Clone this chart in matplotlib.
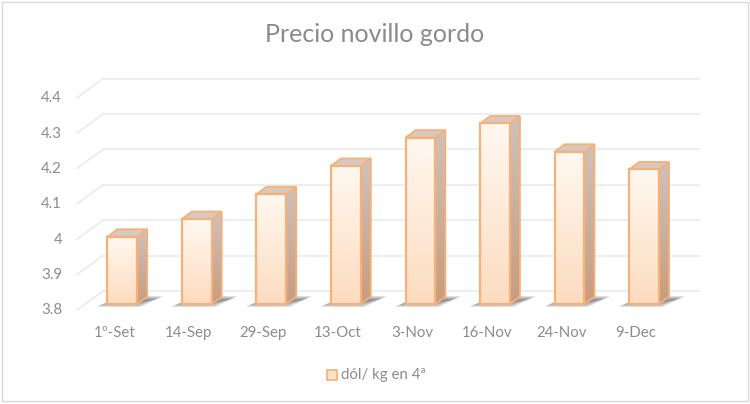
import matplotlib
matplotlib.use("Agg")
import matplotlib.pyplot as plt
import numpy as np
from matplotlib.patches import Polygon, Rectangle
from matplotlib.transforms import offset_copy
from matplotlib.colors import LinearSegmentedColormap

plt.rcParams['font.family'] = ['Lato', 'DejaVu Sans']

fechas = ['1º-Set', '14-Sep', '29-Sep', '13-Oct', '3-Nov', '16-Nov', '24-Nov', '9-Dec']
precios = [3.99, 4.04, 4.11, 4.19, 4.27, 4.31, 4.23, 4.18]
yticks = [3.8, 3.9, 4.0, 4.1, 4.2, 4.3, 4.4]
ytick_labels = ['3.8', '3.9', '4', '4.1', '4.2', '4.3', '4.4']
titulo = 'Precio novillo gordo'
serie = 'dól/ kg en 4ª'

W, H = 750, 404
fig = plt.figure(figsize=(W / 100, H / 100), dpi=100)

# axes placed in pixels: bar front plane
left_px, right_px, top_px, bot_px = 85, 681.4, 91.6, 304
ax = fig.add_axes([left_px / W, 1 - bot_px / H, (right_px - left_px) / W, (bot_px - top_px) / H])
ax.axis('off')

# pixel -> data units
ux = (right_px - left_px) / 8.0
uy = (bot_px - top_px) / 0.6
def px(dx, dy):
    return dx / ux, dy / uy

grid_c = '#ebebeb'
txt_c = '#8c8c8c'
edge_c = '#f6b07a'

# back wall gridlines + left wall diagonals
bx, by = px(18, 13)
fx, fy = px(-8, -6)
for v in yticks:
    ax.plot([-0.5 + bx, 7.5 + bx], [v + by, v + by], color=grid_c, lw=1.2, zorder=1, clip_on=False)
    ax.plot([-0.5 + fx, -0.5 + bx], [v + fy, v + by], color=grid_c, lw=1.2, zorder=1, clip_on=False)

x = np.arange(len(fechas))
w = 0.4
ddx, ddy = px(10, 7.5)

# soft shadows on the floor
for xi in x:
    for k in range(7):
        g = k * 1.3
        sx, sy = px(g, g * 0.5)
        p0 = (xi - w / 2 - px(11, 0)[0] + sx, 3.8 - px(0, 3)[1] + sy)
        p1 = (xi + w / 2 + px(4, 0)[0] - sx, 3.8 - px(0, 3)[1] + sy)
        p2 = (xi + w / 2 + ddx + px(16, 0)[0] - sx, 3.8 + px(0, 8)[1] - sy)
        p3 = (xi - w / 2 + ddx + px(2, 0)[0] + sx, 3.8 + px(0, 8)[1] - sy)
        ax.add_patch(Polygon([p0, p1, p2, p3], closed=True, facecolor='#5a5a5a',
                             edgecolor='none', alpha=0.14, zorder=2, clip_on=False))

bars = ax.bar(x, np.array(precios) - 3.8, bottom=3.8, width=w, facecolor='none',
              edgecolor=edge_c, lw=1.6, zorder=6, clip_on=False)

grad = np.linspace(0, 1, 100).reshape(-1, 1)
cm_front = LinearSegmentedColormap.from_list('f', ['#fddcc0', '#fff8f0'])
cm_side = LinearSegmentedColormap.from_list('s', ['#c89c7e', '#cfc2ba'])

for xi, v, b in zip(x, precios, bars):
    # side face
    side = Polygon([(xi + w / 2, 3.8), (xi + w / 2 + ddx, 3.8 + ddy),
                    (xi + w / 2 + ddx, v + ddy), (xi + w / 2, v)], closed=True,
                   facecolor='none', edgecolor=edge_c, lw=1.3, zorder=4, clip_on=False)
    ax.add_patch(side)
    im = ax.imshow(grad, cmap=cm_side, origin='lower', aspect='auto',
                   extent=(xi + w / 2, xi + w / 2 + ddx, 3.8, v + ddy), zorder=3)
    im.set_clip_path(side)
    # top face
    top = Polygon([(xi - w / 2, v), (xi + w / 2, v), (xi + w / 2 + ddx, v + ddy),
                   (xi - w / 2 + ddx, v + ddy)], closed=True, facecolor='#d8c9bf',
                  edgecolor=edge_c, lw=1.3, zorder=4, clip_on=False)
    ax.add_patch(top)
    # front face gradient
    im = ax.imshow(grad, cmap=cm_front, origin='lower', aspect='auto',
                   extent=(xi - w / 2, xi + w / 2, 3.8, v), zorder=5)
    im.set_clip_path(b)

ax.set_xlim(-0.5, 7.5)
ax.set_ylim(3.8, 4.4)

# y labels at the front edge of the left wall
tr_y = offset_copy(ax.transData, fig=fig, x=-23, y=-6.5, units='dots')
for v, lab in zip(yticks, ytick_labels):
    ax.text(-0.5, v, lab, transform=tr_y, ha='right', va='center', fontsize=10.8, color=txt_c)

tr_x = offset_copy(ax.transData, fig=fig, x=-8, y=-29, units='dots')
for xi, lab in zip(x, fechas):
    ax.text(xi, 3.8, lab, transform=tr_x, ha='center', va='center', fontsize=10.8, color=txt_c)

fig.text(375 / W, 1 - 35 / H, titulo, ha='center', va='center', fontsize=18, color='#8a8a8a')

# legend
fig.patches.append(Rectangle((327 / W, 1 - 380 / H), 10 / W, 10 / H, transform=fig.transFigure,
                             facecolor='#fde3cc', edgecolor=edge_c, lw=1.2))
fig.text(341 / W, 1 - 375 / H, serie, ha='left', va='center', fontsize=10.8, color=txt_c)

# chart border
fig.patches.append(Rectangle((1.5 / W, 3 / H), 746 / W, 399 / H, transform=fig.transFigure,
                             facecolor='none', edgecolor='#d9d9d9', lw=1))

fig.savefig('out.png', dpi=100, facecolor='white')
